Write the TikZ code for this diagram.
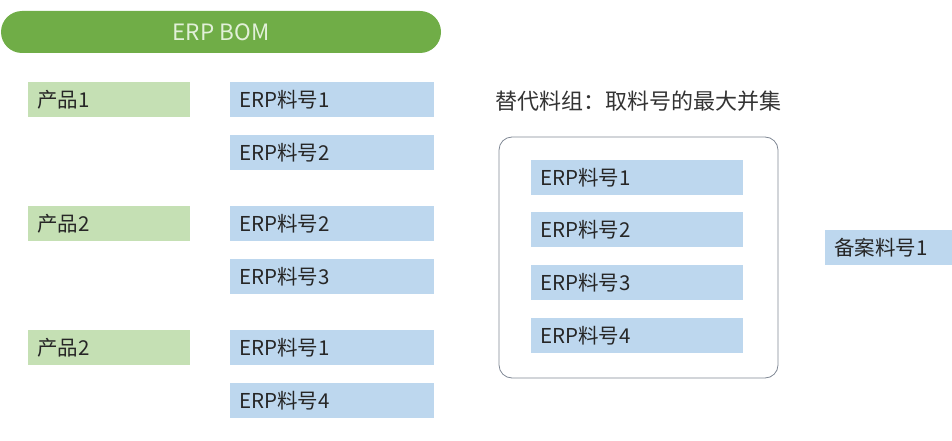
\documentclass[tikz,border=0pt]{standalone}
\usepackage{fontspec}
\setmainfont{Noto Sans CJK SC}
\usepackage{xcolor}
\usepackage{tikz}
\usetikzlibrary{positioning,calc}

\definecolor{bomgreen}{HTML}{70AD47}
\definecolor{bomtext}{HTML}{E2F0D9}
\definecolor{prodgreen}{HTML}{C5E0B4}
\definecolor{erpblue}{HTML}{BDD7EE}
\definecolor{framegray}{HTML}{7F8794}

\begin{document}
\begin{tikzpicture}[
	x=1pt, y=-1pt,
	every node/.style={font=\fontsize{20.5}{24}\selectfont, text=black!85},
	prod_box/.style={
		fill=prodgreen, anchor=north west,
		minimum height=35pt, inner xsep=9pt, inner ysep=0pt,
		text width=144pt, align=left
	},
	erp_box/.style={
		fill=erpblue, anchor=north west,
		minimum height=35pt, inner xsep=9pt, inner ysep=0pt,
		text width=186pt, align=left
	},
	group_box/.style={
		fill=erpblue, anchor=north west,
		minimum height=35pt, inner xsep=9pt, inner ysep=0pt,
		text width=194pt, align=left
	}
	]
	\useasboundingbox (0,0) rectangle (952,441);
	
	% --- 1. THANH TIÊU ĐỀ ---
	\fill[bomgreen, rounded corners=21pt] (1,11) rectangle (441,53);
	\node[text=bomtext, font=\fontsize{22.5}{26}\selectfont] (BOM) at (221,32) {ERP BOM};
	
	% --- 2. CỘT SẢN PHẨM ---
	\node[prod_box] (P1) at (28,82) {产品1};
	\node[prod_box] (P2) at (28,206) {产品2};
	\node[prod_box] (P3) at (28,330) {产品2};
	
	% --- 3. CỘT MÃ VẬT TƯ ---
	\node[erp_box] (E11) at (230,82) {ERP料号1};
	\node[erp_box] (E12) at (230,135) {ERP料号2};
	\node[erp_box] (E22) at (230,206) {ERP料号2};
	\node[erp_box] (E23) at (230,259) {ERP料号3};
	\node[erp_box] (E31) at (230,330) {ERP料号1};
	\node[erp_box] (E34) at (230,383) {ERP料号4};
	
	% --- 4. NHÓM THAY THẾ ---
	\node[anchor=west, font=\fontsize{22}{26}\selectfont, text=black!80] (G_Title) at (492,101) {替代料组：取料号的最大并集};
	\draw[framegray, line width=0.8pt, rounded corners=13pt] (499,137) rectangle (778,378);
	
	\node[group_box] (G1) at (531,160) {ERP料号1};
	\node[group_box] (G2) at (531,212) {ERP料号2};
	\node[group_box] (G3) at (531,265) {ERP料号3};
	\node[group_box] (G4) at (531,318) {ERP料号4};
	
	% --- 5. MÃ DỰ PHÒNG ---
	\node[erp_box] (B1) at (825,230) {备案料号1};
	
\end{tikzpicture}
\end{document}
